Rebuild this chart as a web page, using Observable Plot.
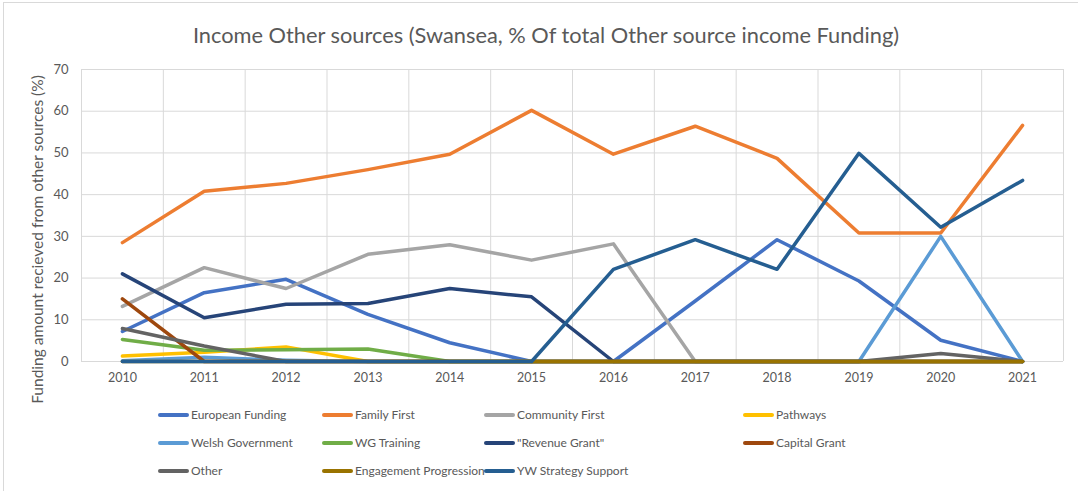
<!DOCTYPE html>
<html>
<head>
<meta charset="utf-8">
<script src="https://cdn.jsdelivr.net/npm/d3@7"></script>
<script src="https://cdn.jsdelivr.net/npm/@observablehq/plot@0.6"></script>
<style>
  html, body { margin: 0; padding: 0; background: #fff; }
  #wrap { position: relative; width: 1078px; height: 491px; overflow: hidden; font-family: Lato, "Open Sans", sans-serif; color: #595959; }
  #frame { position: absolute; left: 3px; top: 2px; width: 1090px; height: 500px; border-left: 1px solid #d9d9d9; border-top: 1px solid #d9d9d9; }
  #title { position: absolute; left: 0; width: 1092px; top: 21px; text-align: center; font-size: 21.8px; line-height: 28px; }
  #chart { position: absolute; left: 0; top: 0; }
  .leg { position: absolute; font-size: 12px; line-height: 16px; white-space: nowrap; display: flex; align-items: center; }
  .sw { display: inline-block; width: 31px; height: 4px; border-radius: 2px; margin-right: 2px; }
</style>
</head>
<body>
<div id="wrap">
  <div id="frame"></div>
  <div id="chart"></div>
  <div id="title">Income Other sources (Swansea, % Of total Other source income Funding)</div>
  <div id="legend"></div>
</div>
<script>
const years = [2010, 2011, 2012, 2013, 2014, 2015, 2016, 2017, 2018, 2019, 2020, 2021];
const seriesNames = ["European Funding", "Family First", "Community First", "Pathways", "Welsh Government", "WG Training", "\"Revenue Grant\"", "Capital Grant", "Other", "Engagement Progression", "YW Strategy Support"];
const seriesColors = ["#4472C4", "#ED7D31", "#A5A5A5", "#FFC000", "#5B9BD5", "#70AD47", "#264478", "#9E480E", "#636363", "#997300", "#255E91"];

const europeanFunding      = [7.2, 16.5, 19.7, 11.3, 4.5, 0, 0, 14.5, 29.2, 19.3, 5.1, 0];
const familyFirst          = [28.5, 40.8, 42.7, 46.0, 49.7, 60.2, 49.7, 56.4, 48.7, 30.8, 30.8, 56.6];
const communityFirst       = [13.2, 22.5, 17.5, 25.7, 28.0, 24.3, 28.2, 0, 0, 0, 0, 0];
const pathways             = [1.3, 2.2, 3.5, 0, 0, 0, 0, 0, 0, 0, 0, 0];
const welshGovernment      = [0.2, 1.0, 0.3, 0, 0, 0, 0, 0, 0, 0, 30.0, 0];
const wgTraining           = [5.3, 2.7, 2.8, 3.0, 0, 0, 0, 0, 0, 0, 0, 0];
const revenueGrant         = [21.0, 10.5, 13.7, 13.9, 17.5, 15.5, 0, 0, 0, 0, 0, 0];
const capitalGrant         = [15.0, 0, 0, 0, 0, 0, 0, 0, 0, 0, 0, 0];
const other                = [7.9, 3.7, 0, 0, 0, 0, 0, 0, 0, 0, 1.9, 0];
const engagementProgression= [0, 0, 0, 0, 0, 0, 0, 0, 0, 0, 0, 0];
const ywStrategySupport    = [0, 0, 0, 0, 0, 0, 22.1, 29.2, 22.1, 49.9, 32.2, 43.4];

const yTicks = [0, 10, 20, 30, 40, 50, 60, 70];

const allValues = [europeanFunding, familyFirst, communityFirst, pathways, welshGovernment, wgTraining, revenueGrant, capitalGrant, other, engagementProgression, ywStrategySupport];

const boundaries = years.map(y => y - 0.5).concat([years[years.length - 1] + 0.5]);

const lineMarks = allValues.map((vals, i) =>
  Plot.line(years.map((yr, j) => ({year: yr, value: vals[j]})), {
    x: "year", y: "value", stroke: seriesColors[i], strokeWidth: 3.5,
    strokeLinejoin: "round", strokeLinecap: "round"
  })
);

const chart = Plot.plot({
  width: 1078,
  height: 400,
  marginTop: 69,
  marginBottom: 39,
  marginLeft: 81,
  marginRight: 15,
  style: { fontFamily: "Lato, 'Open Sans', sans-serif", fontSize: "13px", color: "#595959", background: "transparent", overflow: "visible" },
  x: { domain: [boundaries[0], boundaries[boundaries.length - 1]] },
  y: { domain: [0, 70] },
  marks: [
    Plot.ruleY(yTicks, { stroke: "#d9d9d9", strokeWidth: 1 }),
    Plot.ruleX(boundaries, { stroke: "#d9d9d9", strokeWidth: 1 }),
    Plot.axisX({ ticks: years, tickSize: 0, tickPadding: 12, tickFormat: d => String(d), label: null, fill: "#595959", fontSize: 12.5 }),
    Plot.axisY({ ticks: yTicks, tickSize: 0, tickPadding: 13, label: null, fill: "#595959", fontSize: 13 }),
    Plot.text(["Funding amount recieved from other sources (%)"], {
      frameAnchor: "left", dx: -43, dy: 24, rotate: -90, fill: "#595959", fontSize: 15.5, textAnchor: "middle"
    }),
    ...lineMarks
  ]
});
document.getElementById("chart").appendChild(chart);

// legend
const colX = [158, 322, 484, 743];
const rowY = [407, 435, 463];
const legend = document.getElementById("legend");
seriesNames.forEach((name, i) => {
  const col = i % 4, row = Math.floor(i / 4);
  const d = document.createElement("div");
  d.className = "leg";
  d.style.left = colX[col] + "px";
  d.style.top = rowY[row] + "px";
  const sw = document.createElement("span");
  sw.className = "sw";
  sw.style.background = seriesColors[i];
  d.appendChild(sw);
  d.appendChild(document.createTextNode(name));
  legend.appendChild(d);
});
</script>
</body>
</html>
